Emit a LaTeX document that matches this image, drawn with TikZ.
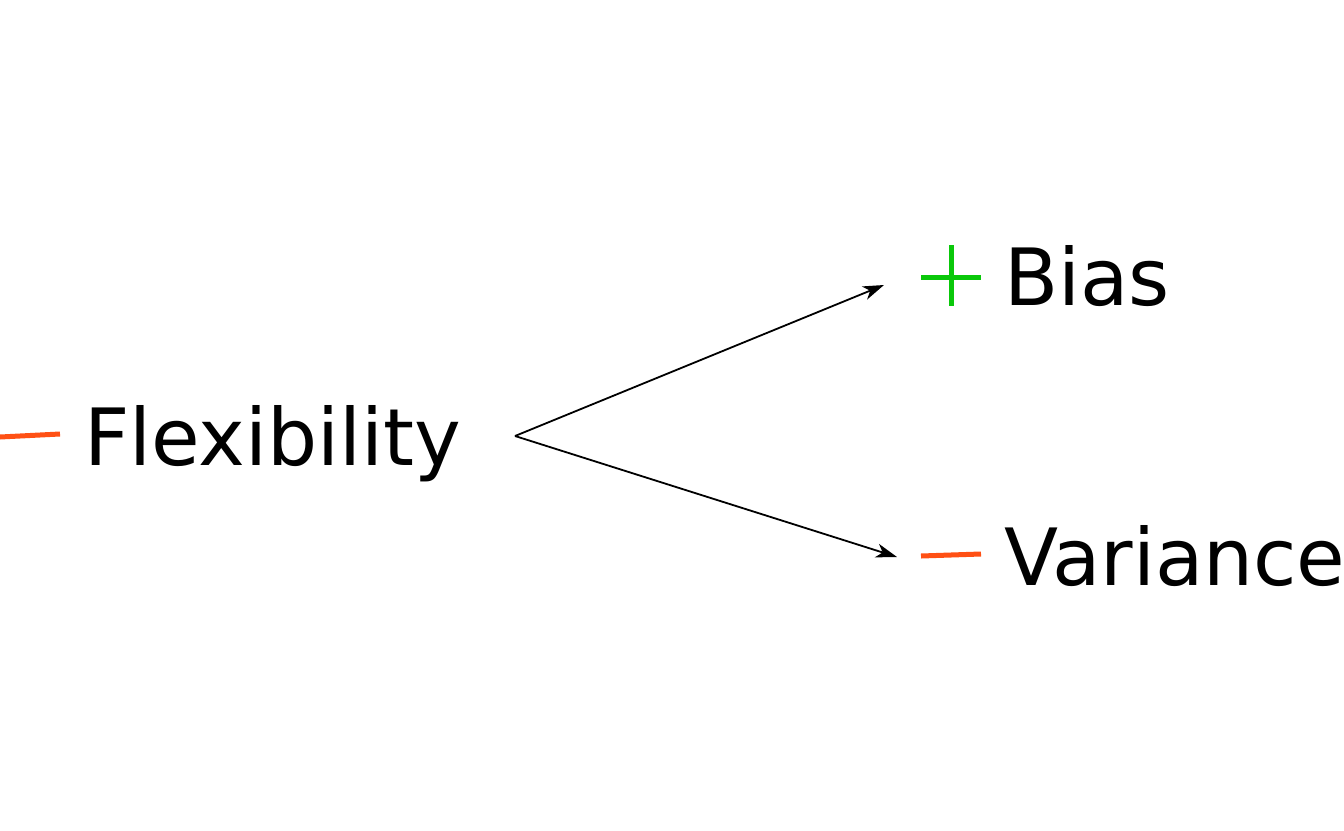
\documentclass[tikz,border=0pt]{standalone}
\usepackage{fontspec}
\setmainfont{DejaVu Sans}
\usetikzlibrary{arrows.meta}
\definecolor{minusorange}{RGB}{255,80,20}
\definecolor{plusgreen}{RGB}{10,200,10}
\tikzset{
  lbl/.style={inner sep=0pt, anchor=base west, font=\fontsize{79}{95}\selectfont},
  sign/.style={line width=5pt},
  conn/.style={line width=1.8pt, -{Stealth[length=21pt,width=14pt,inset=6pt]}}
}
\begin{document}
\begin{tikzpicture}[x=1pt,y=-1pt]
\useasboundingbox (0,0) rectangle (1344,830);
% labels
\node[lbl] (flex) at (84,465) {Flexibility};
\node[lbl] (bias) at (1004,305) {Bias};
\node[lbl] (var) at (1004,585) {Variance};
% signs
\draw[sign, minusorange] (0,437) -- (60,434);
\draw[sign, plusgreen] (921,277) -- (981,277);
\draw[sign, plusgreen] (951,245) -- (951,306);
\draw[sign, minusorange] (921,556) -- (981,554);
% connectors
\coordinate (fork) at (515,436);
\coordinate (biasend) at (884,285);
\coordinate (varend) at (897,557);
\draw[conn] (fork) -- (biasend);
\draw[conn] (fork) -- (varend);
\end{tikzpicture}
\end{document}
